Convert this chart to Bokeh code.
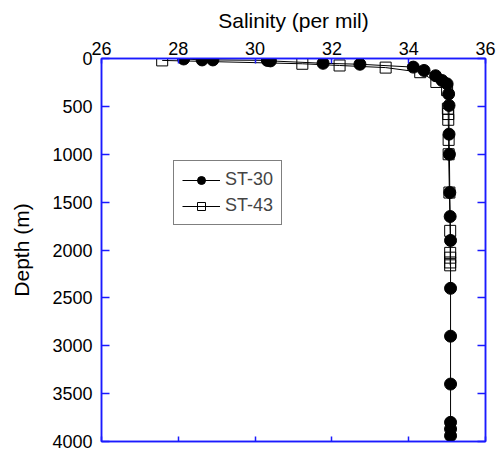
from bokeh.plotting import figure
from bokeh.models import LinearAxis, Range1d, Legend, LegendItem, FixedTicker
from bokeh.embed import file_html
from bokeh.resources import INLINE

# ST-30 (filled circles)
st30_salinity = [28.14, 28.62, 28.90, 30.32, 30.40, 31.77, 32.73, 34.12, 34.40, 34.70,
                 34.87, 35.00, 35.04, 35.05, 35.05, 35.06, 35.07, 35.08, 35.09, 35.09,
                 35.09, 35.09, 35.09, 35.09, 35.09]
st30_depth = [5, 15, 15, 20, 25, 50, 60, 90, 125, 180,
              230, 265, 370, 490, 790, 1000, 1400, 1650, 1900, 2400,
              2900, 3400, 3800, 3870, 3940]

# ST-43 (open squares)
st43_salinity = [27.58, 31.23, 32.20, 33.40, 34.30, 34.72, 35.00, 35.02, 35.03, 35.03,
                 35.04, 35.04, 35.06, 35.08, 35.08, 35.08, 35.08, 35.08]
st43_depth = [20, 55, 73, 95, 143, 245, 330, 525, 580, 640,
              850, 1000, 1400, 1800, 2030, 2080, 2130, 2160]

x_ticks = [26, 28, 30, 32, 34, 36]
y_ticks = [0, 500, 1000, 1500, 2000, 2500, 3000, 3500, 4000]

FONT = "Liberation Sans"
AXIS_COLOR = "#1a1aff"

p = figure(frame_width=384, frame_height=383, output_backend="svg", toolbar_location=None,
           x_range=Range1d(26, 36), y_range=Range1d(4000, 0),
           x_axis_location="above", min_border_left=101, min_border_right=12,
           min_border_top=58, min_border_bottom=10, border_fill_color="white")
p.background_fill_alpha = 0
p.grid.visible = False
p.outline_line_color = AXIS_COLOR
p.outline_line_width = 1.5

def style_axis(ax, tick_in, labels=True):
    ax.axis_line_color = AXIS_COLOR
    ax.axis_line_width = 1.5
    ax.major_tick_line_color = AXIS_COLOR
    ax.major_tick_line_width = 1.5
    ax.minor_tick_line_color = None
    ax.major_tick_in = tick_in
    ax.major_tick_out = 0
    ax.major_label_text_font = FONT
    ax.major_label_text_font_size = "18px"
    ax.major_label_text_color = "black" if labels else None
    ax.axis_label_text_font = FONT
    ax.axis_label_text_font_size = "21px"
    ax.axis_label_text_font_style = "normal"
    ax.axis_label_text_color = "black"

xa = p.xaxis[0]
xa.ticker = FixedTicker(ticks=x_ticks)
xa.axis_label = "Salinity (per mil)"
style_axis(xa, 5)
xa.major_label_standoff = 4
xa.axis_label_standoff = 7

ya = p.yaxis[0]
ya.ticker = FixedTicker(ticks=y_ticks)
ya.axis_label = "Depth (m)"
style_axis(ya, 8)
ya.major_label_standoff = 9
ya.axis_label_standoff = 16

xb = LinearAxis(ticker=FixedTicker(ticks=x_ticks))
style_axis(xb, 5, labels=False)
xb.major_label_text_font_size = "0px"
xb.major_label_standoff = 0
p.add_layout(xb, "below")

yr = LinearAxis(ticker=FixedTicker(ticks=y_ticks))
style_axis(yr, 8, labels=False)
yr.major_label_text_font_size = "0px"
yr.major_label_standoff = 0
p.add_layout(yr, "right")

l30 = p.line(st30_salinity, st30_depth, line_color="black", line_width=1)
s30 = p.scatter(st30_salinity, st30_depth, marker="circle", size=12,
                fill_color="black", line_color="black")
l43 = p.line(st43_salinity, st43_depth, line_color="black", line_width=1)
s43 = p.scatter(st43_salinity, st43_depth, marker="square", size=11,
                fill_color=None, line_color="black", line_width=1)

legend = Legend(items=[LegendItem(label="ST-30", renderers=[l30, s30]),
                       LegendItem(label="ST-43", renderers=[l43, s43])],
                location=(72, 216), orientation="vertical")
legend.label_text_font = FONT
legend.label_text_font_size = "18px"
legend.glyph_width = 38
legend.glyph_height = 20
legend.label_standoff = 5
legend.spacing = 5
legend.padding = 8
legend.margin = 0
legend.border_line_color = "black"
legend.border_line_width = 1
legend.background_fill_color = "white"
legend.background_fill_alpha = 1
p.add_layout(legend, "center")

open("out.html", "w").write(file_html(p, INLINE))
